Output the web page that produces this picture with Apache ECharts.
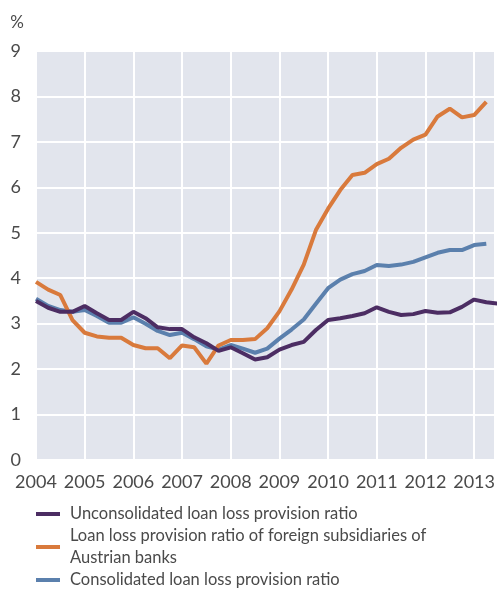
<!DOCTYPE html>
<html>
<head>
<meta charset="utf-8">
<script src="https://cdn.jsdelivr.net/npm/echarts@6/dist/echarts.min.js"></script>
<style>
  html, body { margin: 0; padding: 0; background: #fff; }
  #chart { width: 498px; height: 592px; }
</style>
</head>
<body>
<div id="chart"></div>
<script>
// quarterly observations, 2004 Q1 .. 2013 Q3
const quarters = [
  '2004Q1','2004Q2','2004Q3','2004Q4','2005Q1','2005Q2','2005Q3','2005Q4',
  '2006Q1','2006Q2','2006Q3','2006Q4','2007Q1','2007Q2','2007Q3','2007Q4',
  '2008Q1','2008Q2','2008Q3','2008Q4','2009Q1','2009Q2','2009Q3','2009Q4',
  '2010Q1','2010Q2','2010Q3','2010Q4','2011Q1','2011Q2','2011Q3','2011Q4',
  '2012Q1','2012Q2','2012Q3','2012Q4','2013Q1','2013Q2','2013Q3'
]
const yearTicks = [2004, 2005, 2006, 2007, 2008, 2009, 2010, 2011, 2012, 2013]

const unconsolidated = [
  3.50, 3.35, 3.26, 3.26, 3.39, 3.23, 3.08, 3.08,
  3.26, 3.12, 2.92, 2.88, 2.88, 2.70, 2.57, 2.40,
  2.48, 2.35, 2.21, 2.26, 2.43, 2.53, 2.60, 2.86,
  3.08, 3.12, 3.17, 3.23, 3.36, 3.26, 3.19, 3.21,
  3.28, 3.24, 3.25, 3.37, 3.53, 3.47, 3.44
]
const foreignSubs = [
  3.92, 3.75, 3.63, 3.08, 2.80, 2.72, 2.69, 2.69,
  2.53, 2.46, 2.46, 2.24, 2.52, 2.48, 2.12, 2.52,
  2.64, 2.64, 2.66, 2.90, 3.27, 3.75, 4.30, 5.06,
  5.53, 5.94, 6.27, 6.32, 6.51, 6.63, 6.87, 7.05,
  7.16, 7.56, 7.73, 7.54, 7.59, 7.88
]
const consolidated = [
  3.55, 3.39, 3.30, 3.26, 3.30, 3.17, 3.02, 3.02,
  3.14, 3.00, 2.84, 2.75, 2.80, 2.66, 2.50, 2.43,
  2.53, 2.45, 2.36, 2.45, 2.67, 2.87, 3.09, 3.44,
  3.78, 3.97, 4.09, 4.16, 4.29, 4.27, 4.30, 4.36,
  4.46, 4.56, 4.62, 4.62, 4.73, 4.76
]

const names = [
  'Unconsolidated loan loss provision ratio',
  'Loan loss provision ratio of foreign subsidiaries of Austrian banks',
  'Consolidated loan loss provision ratio'
]

// '2004Q1' -> 2004.0, '2004Q2' -> 2004.25 ...
const toYear = q => Number(q.slice(0, 4)) + (Number(q.slice(5)) - 1) / 4
const pairs = vals => vals.map((v, i) => [toYear(quarters[i]), v])

const font = 'Lato, "Open Sans", sans-serif'
const textGrey = '#4a4a4a'

const chart = echarts.init(document.getElementById('chart'))

chart.setOption({
  animation: false,
  textStyle: { fontFamily: font },
  grid: {
    left: 36,
    right: 0,
    top: 51,
    bottom: 132,
    show: true,
    backgroundColor: '#e2e5ed',
    borderWidth: 0
  },
  xAxis: {
    type: 'value',
    min: yearTicks[0],
    max: 2013.42,
    interval: 1,
    axisLine: { show: false },
    axisTick: { show: false },
    splitLine: { show: true, lineStyle: { color: '#fff', width: 2 } },
    axisLabel: {
      color: textGrey,
      fontSize: 18,
      margin: 13,
      formatter: v => (yearTicks.includes(v) ? String(v) : '')
    }
  },
  yAxis: {
    type: 'value',
    min: 0,
    max: 9,
    interval: 1,
    name: '%',
    nameLocation: 'end',
    nameGap: 20,
    nameTextStyle: {
      color: textGrey,
      fontSize: 17,
      align: 'right',
      padding: [0, 12, 0, 0]
    },
    axisLine: { show: false },
    axisTick: { show: false },
    splitLine: { show: true, lineStyle: { color: '#fff', width: 2 } },
    axisLabel: { color: textGrey, fontSize: 18, margin: 15 }
  },
  legend: {
    orient: 'vertical',
    left: 36,
    top: 503,
    height: 100,
    padding: 0,
    itemWidth: 24,
    itemHeight: 4,
    itemGap: 0,
    icon: 'rect',
    data: names,
    formatter: name => name.replace('subsidiaries of ', 'subsidiaries of\n'),
    textStyle: { color: textGrey, fontSize: 16.5, lineHeight: 22, padding: [0, 0, 0, 5] }
  },
  series: [
    {
      name: names[2],
      type: 'line',
      data: pairs(consolidated),
      showSymbol: false,
      z: 1,
      itemStyle: { color: '#5b80ad' },
      lineStyle: { width: 4, color: '#5b80ad' }
    },
    {
      name: names[1],
      type: 'line',
      data: pairs(foreignSubs),
      showSymbol: false,
      z: 2,
      itemStyle: { color: '#d97a3c' },
      lineStyle: { width: 4, color: '#d97a3c' }
    },
    {
      name: names[0],
      type: 'line',
      data: pairs(unconsolidated),
      showSymbol: false,
      z: 3,
      itemStyle: { color: '#4c2d63' },
      lineStyle: { width: 4, color: '#4c2d63' }
    }
  ]
})
</script>
</body>
</html>
